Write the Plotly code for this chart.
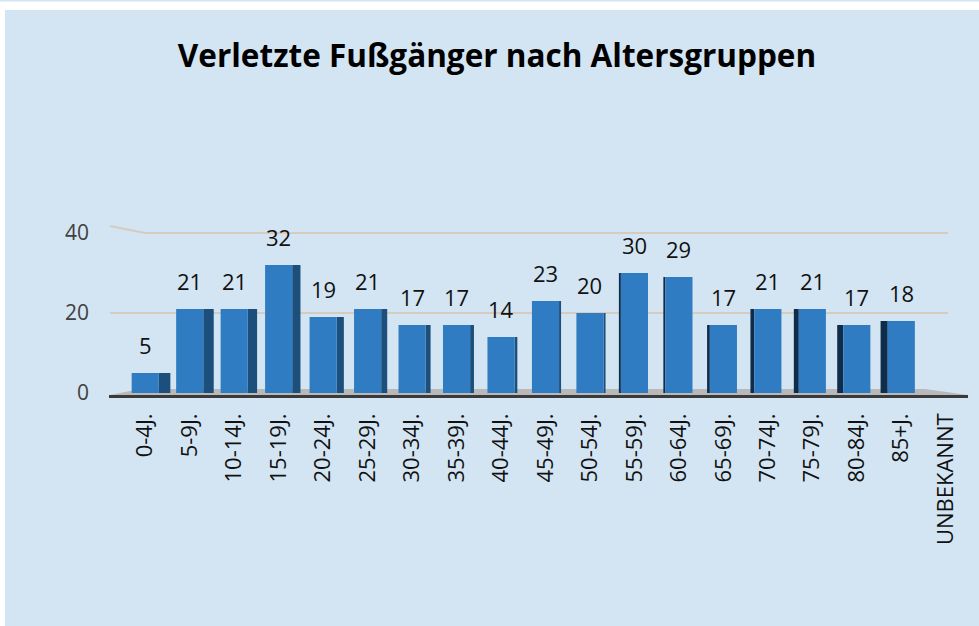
import plotly.graph_objects as go

categories = ["0-4J.", "5-9J.", "10-14J.", "15-19J.", "20-24J.", "25-29J.", "30-34J.",
              "35-39J.", "40-44J.", "45-49J.", "50-54J.", "55-59J.", "60-64J.", "65-69J.",
              "70-74J.", "75-79J.", "80-84J.", "85+J.", "UNBEKANNT"]
values = [5, 21, 21, 32, 19, 21, 17, 17, 14, 23, 20, 30, 29, 17, 21, 21, 17, 18, None]
y_ticks = [0, 20, 40]

W, H = 979, 626
ML, MR, MT, MB = 123, 11, 153, 233
PW = W - ML - MR
PH = H - MT - MB
YMAX = 60
CAT_PX = PW / len(categories)

def xp(px):
    return (px - ML) / PW

def yp(py):
    return (H - MB - py) / PH

FRONT_W = 0.61
BG = "#d3e5f2"
FONT = "Open Sans"

# 3D side faces (perspective: right side for left bars, left side for right bars)
side_w, side_off, side_col = [], [], []
for i, v in enumerate(values):
    w_px = max(2.0, 1.1 * abs(i - 10.5))
    w = w_px / CAT_PX
    side_w.append(w)
    if i < 10.5:
        side_off.append(FRONT_W / 2)
        side_col.append("#1d4f7c")
    else:
        side_off.append(-FRONT_W / 2 - w)
        side_col.append("#0f2d4b")

fig = go.Figure()
fig.add_trace(go.Bar(
    x=categories, y=values, width=side_w, offset=side_off,
    marker=dict(color=side_col, line=dict(width=0)), hoverinfo="skip", showlegend=False,
))
fig.add_trace(go.Bar(
    x=categories, y=values, width=FRONT_W, offset=-FRONT_W / 2,
    marker=dict(color="#2f7cc2", line=dict(width=0)), showlegend=False,
))

for c, v in zip(categories, values):
    if v is None:
        continue
    fig.add_annotation(x=c, y=v, text=str(v), showarrow=False, yanchor="bottom",
                       yshift=11, font=dict(family=FONT, size=22, color="#111111"))

shapes = [
    # white frame + blue background panel
    dict(type="rect", xref="paper", yref="paper", x0=xp(5), x1=xp(W + 5),
         y0=yp(10), y1=yp(H + 5), fillcolor=BG, line=dict(width=0), layer="below"),
    dict(type="rect", xref="paper", yref="paper", x0=xp(0), x1=xp(W + 5),
         y0=yp(1.5), y1=yp(-5), fillcolor=BG, line=dict(width=0), layer="below"),
    # gridlines
    dict(type="path", xref="paper", yref="paper",
         path=f"M {xp(110)},{yp(226)} L {xp(145)},{40 / YMAX} L {xp(948)},{40 / YMAX}",
         line=dict(color="#d6cbbf", width=2), layer="below"),
    dict(type="line", xref="paper", yref="paper", x0=xp(110), x1=xp(948),
         y0=20 / YMAX, y1=20 / YMAX, line=dict(color="#d6cbbf", width=2), layer="below"),
    # floor
    dict(type="path", xref="paper", yref="paper",
         path=f"M {xp(110)},{yp(395)} L {xp(140)},{yp(389)} L {xp(925)},{yp(389)} "
              f"L {xp(968)},{yp(395)} Z",
         fillcolor="#b9b9b9", line=dict(width=0), layer="below"),
    dict(type="rect", xref="paper", yref="paper", x0=xp(109), x1=xp(968),
         y0=yp(398), y1=yp(395), fillcolor="#3a3a3a", line=dict(width=0), layer="above"),
]

fig.update_layout(
    width=W, height=H,
    margin=dict(l=ML, r=MR, t=MT, b=MB, pad=0),
    paper_bgcolor="white", plot_bgcolor="rgba(0,0,0,0)",
    barmode="overlay",
    title=dict(text="<b>Verletzte Fußgänger nach Altersgruppen</b>",
               x=497 / W, xanchor="center", xref="container",
               y=1 - 56 / H, yanchor="middle", yref="container",
               font=dict(family=FONT, size=31.5, color="#000000")),
    xaxis=dict(type="category", tickangle=-90, showgrid=False, showline=False,
               zeroline=False, ticks="", ticklabelstandoff=15,
               tickfont=dict(family=FONT, size=22, color="#111111")),
    yaxis=dict(range=[0, YMAX], tickvals=y_ticks, showgrid=False, zeroline=False,
               showline=False, ticks="", ticklabelstandoff=33,
               tickfont=dict(family=FONT, size=21, color="#404040")),
    shapes=shapes,
    font=dict(family=FONT),
)

fig.write_html("out.html", config={"displayModeBar": False},
               post_script="document.body.style.margin='0';document.body.style.overflow='hidden';")
